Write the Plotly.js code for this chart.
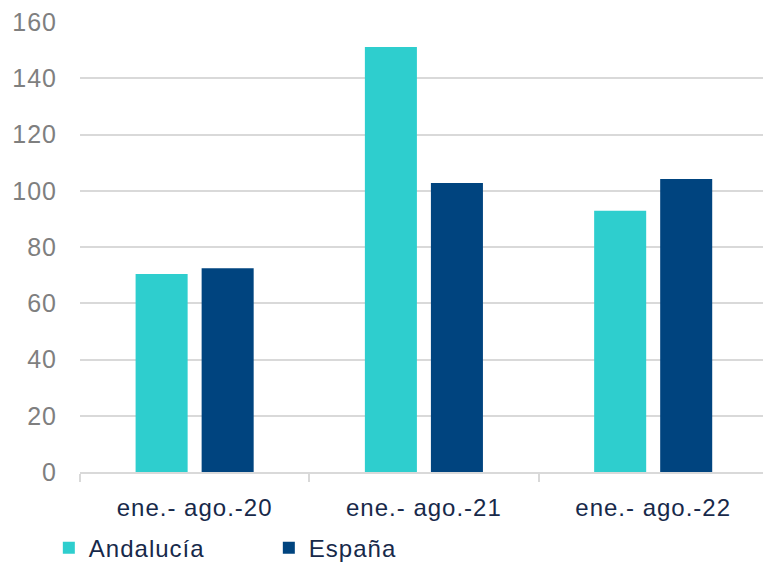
<!DOCTYPE html>
<html>
<head>
<meta charset="utf-8">
<script src="https://cdn.plot.ly/plotly-3.0.1.min.js"></script>
<style>
html,body{margin:0;padding:0;background:#fff;}
#chart{width:763px;height:564px;}
.xtick text, .ytick text, .legendtext {letter-spacing:1px;}
</style>
</head>
<body>
<div id="chart"></div>
<script>
const categories = ["ene.- ago.-20", "ene.- ago.-21", "ene.- ago.-22"];
const andalucia = [70.4, 151.1, 92.9];
const espana = [72.4, 102.8, 104.2];
const seriesNames = ["Andalucía", "España"];
const yTicks = [0, 20, 40, 60, 80, 100, 120, 140, 160];

const traces = [
  {type: "bar", name: seriesNames[0], x: categories, y: andalucia,
   marker: {color: "#2ECECE"}, hoverinfo: "skip"},
  {type: "bar", name: seriesNames[1], x: categories, y: espana,
   marker: {color: "#00447F"}, hoverinfo: "skip"}
];

const layout = {
  width: 763, height: 564,
  margin: {l: 80, r: 0, t: 22, b: 92},
  paper_bgcolor: "#fff", plot_bgcolor: "#fff",
  font: {family: "Liberation Sans, Arial, sans-serif", size: 24},
  barmode: "group",
  bargap: 0.424,
  bargroupgap: 0.212,
  showlegend: true,
  legend: {orientation: "h", xref: "container", yref: "container",
           x: 0.064, xanchor: "left", y: 0.068, yanchor: "top",
           font: {size: 24, color: "#17294A"}, entrywidth: 175, entrywidthmode: "pixels",
           traceorder: "normal", itemclick: false},
  xaxis: {type: "category", range: [-0.5, 2.479], tickson: "boundaries",
          ticks: "outside", ticklen: 8, tickwidth: 2, tickcolor: "#D9D9D9",
          showline: true, linecolor: "#D9D9D9", linewidth: 2,
          showgrid: false, zeroline: false, automargin: false,
          tickfont: {size: 24, color: "#17294A"}, ticklabelstandoff: 13,
          fixedrange: true},
  yaxis: {range: [0, 160], tickvals: yTicks, ticktext: yTicks.map(String),
          showgrid: true, gridcolor: "#D9D9D9", gridwidth: 2,
          zeroline: false, showline: false, ticks: "", automargin: false,
          tickfont: {size: 25, color: "#7F7F7F"}, ticklabelstandoff: 22,
          fixedrange: true}
};

Plotly.newPlot("chart", traces, layout, {staticPlot: true, displayModeBar: false});
</script>
</body>
</html>
